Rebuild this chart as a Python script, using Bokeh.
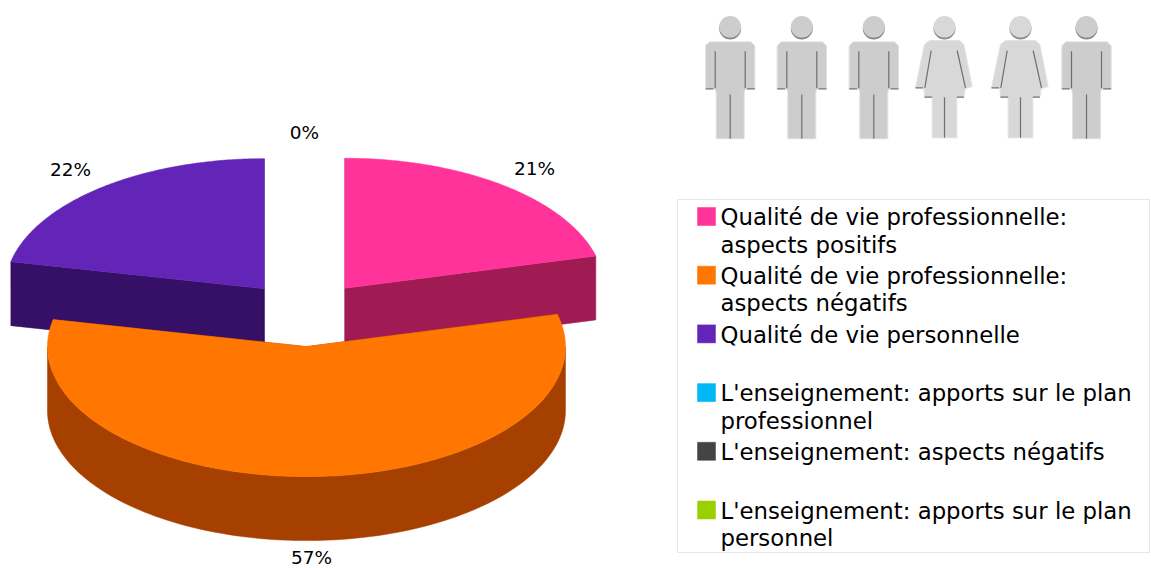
import numpy as np
from bokeh.plotting import figure
from bokeh.models import Range1d
from bokeh.core.properties import value
from bokeh.embed import file_html
from bokeh.resources import INLINE

# ---- data ----
categories = ["Qualité de vie professionnelle: aspects positifs",
              "Qualité de vie professionnelle: aspects négatifs",
              "Qualité de vie personnelle",
              "L'enseignement: apports sur le plan professionnel",
              "L'enseignement: aspects négatifs",
              "L'enseignement: apports sur le plan personnel"]
legend_lines = [["Qualité de vie professionnelle:", "aspects positifs"],
                ["Qualité de vie professionnelle:", "aspects négatifs"],
                ["Qualité de vie personnelle"],
                ["L'enseignement: apports sur le plan", "professionnel"],
                ["L'enseignement: aspects négatifs"],
                ["L'enseignement: apports sur le plan", "personnel"]]
shares = [21, 57.33, 21.67, 0, 0, 0]
top_colors = ["#FF3399", "#FF7700", "#6325B8", "#00B8F5", "#444444", "#99D100"]
side_colors = ["#A01A54", "#A64000", "#361066", "#007AA3", "#2D2D2D", "#668B00"]
pie_labels = ["21%", "57%", "22%", "0%"]
label_x = [534, 311, 70, 304]
label_y = [168, 556.5, 169, 132]
figures = ["m", "m", "m", "f", "f", "m"]
figure_x = [729.7, 801.3, 873.3, 944, 1020, 1086]

W, H = 1151, 568
p = figure(width=W, height=H, output_backend="svg", toolbar_location=None,
           x_range=Range1d(0, W), y_range=Range1d(H, 0),
           min_border=0, background_fill_color="white", border_fill_color="white")
p.axis.visible = False
p.grid.visible = False
p.outline_line_color = None

# ---- exploded 3-D pie ----
CX, CY, RX, RY, EXPLODE, DEPTH = 304.6, 313.5, 259, 130, 65, 64


def arc(cx, cy, a0, a1, n=120):
    t = np.radians(np.linspace(a0, a1, n))
    return cx + RX * np.cos(t), cy - RY * np.sin(t)


angle = 90.0
wedges = []
for share, top, side in zip(shares, top_colors, side_colors):
    if share == 0:
        continue
    a0, a1 = angle, angle - share * 3.6
    mid = np.radians((a0 + a1) / 2)
    wedges.append((a0, a1, CX + EXPLODE * np.cos(mid), CY - EXPLODE * np.sin(mid) * RY / RX, top, side))
    angle = a1

# back pieces first, front piece (the one crossing the bottom of the ellipse) last
wedges.sort(key=lambda w: w[3])
for a0, a1, cx, cy, top, side in wedges:
    # radial walls
    for a in (a0, a1):
        ex, ey = arc(cx, cy, a, a, 1)
        p.patch([cx, ex[0], ex[0], cx], [cy, ey[0], ey[0] + DEPTH, cy + DEPTH],
                fill_color=side, line_color=side, line_width=0.5)
    # outer wall: only the part facing the viewer
    lo, hi = max(a1, -180), min(a0, 0)
    if hi > lo:
        ax, ay = arc(cx, cy, hi, lo)
        p.patch(np.r_[ax, ax[::-1]], np.r_[ay, ay[::-1] + DEPTH],
                fill_color=side, line_color=side, line_width=0.5)
    # top face
    ax, ay = arc(cx, cy, a0, a1)
    p.patch(np.r_[cx, ax], np.r_[cy, ay], fill_color=top, line_color=top, line_width=0.5)

p.text(label_x, label_y, text=pie_labels, text_align="center", text_baseline="middle",
       text_font=value("DejaVu Sans"), text_font_size="18.5px", text_color="#000000")

# ---- legend ----
p.quad(left=[677], right=[1149], top=[199], bottom=[552], fill_color="white",
       line_color="#E8E8E8", line_width=1)
ROW0, ROW_STEP, LINE_STEP = 216, 58.7, 27.3
for i, lines in enumerate(legend_lines):
    ry = ROW0 + i * ROW_STEP
    p.rect([706], [ry], width=18, height=18, fill_color=top_colors[i],
           line_color=top_colors[i], line_alpha=0.5)
    for j, line in enumerate(lines):
        p.text([720], [ry + 0.7 + j * LINE_STEP], text=[line], text_align="left",
               text_baseline="middle", text_font=value("DejaVu Sans"),
               text_font_size="22.8px", text_color="#000000")

# ---- row of pictograms ----
MAN = [(-62, 124), (62, 124), (74, 136), (74, 265), (46, 265), (42, 275), (42, 415),
       (-42, 415), (-42, 275), (-46, 265), (-74, 265), (-74, 136)]
WOMAN = [(-45, 120), (45, 120), (58, 132), (83, 258), (62, 265), (58, 290), (37, 290),
         (37, 412), (-37, 412), (-37, 290), (-60, 290), (-62, 262), (-87, 262), (-60, 132)]
MAN_SLITS = [[(-45, 152), (-45, 263)], [(45, 152), (45, 263)], [(0, 282), (0, 415)],
             [(-74, 265), (-50, 265)], [(50, 265), (74, 265)]]
WOMAN_SLITS = [[(-40, 150), (-59, 262)], [(38, 150), (63, 262)], [(0, 290), (0, 412)],
               [(-87, 262), (-64, 262)], [(-60, 290), (-37, 290)], [(37, 290), (58, 290)]]

for kind, fx in zip(figures, figure_x):
    poly, slits, fill = (MAN, MAN_SLITS, "#CDCDCD") if kind == "m" else (WOMAN, WOMAN_SLITS, "#D8D8D8")
    p.patch([fx + a / 3 for a, _ in poly], [b / 3 for _, b in poly], fill_color=fill,
            line_color="#E2E2E2", line_width=1)
    p.multi_line([[fx + a / 3 for a, _ in s] for s in slits], [[b / 3 for _, b in s] for s in slits],
                 line_color="#555555", line_width=1.2, line_alpha=0.8)
    p.ellipse([fx], [28], width=22, height=22, fill_color="#888888", line_color=None)
    p.ellipse([fx], [26.3], width=22, height=21.6, fill_color=fill, line_color=None)

open("out.html", "w").write(file_html(p, INLINE))
